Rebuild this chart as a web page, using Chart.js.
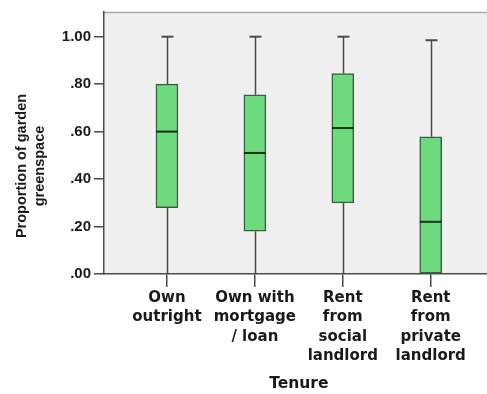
<!DOCTYPE html>
<html>
<head>
<meta charset="utf-8">
<script src="https://cdn.jsdelivr.net/npm/chart.js@4/dist/chart.umd.min.js"></script>
<style>
  html, body { margin: 0; padding: 0; background: #ffffff; }
  #wrap { width: 487px; height: 394px; position: relative; }
</style>
</head>
<body>
<div id="wrap"><canvas id="chart"></canvas></div>
<script>
// Tenure groups and box-plot summaries of garden greenspace proportion
const categories = [
  ["Own", "outright"],
  ["Own with", "mortgage", "/ loan"],
  ["Rent", "from", "social", "landlord"],
  ["Rent", "from", "private", "landlord"]
];
const positions = [1, 2, 3, 4];
const whiskerLow = [0.00, 0.00, 0.00, 0.00];
const quartile1  = [0.28, 0.18, 0.30, 0.00];
const medians    = [0.60, 0.51, 0.615, 0.22];
const quartile3  = [0.80, 0.755, 0.845, 0.578];
const whiskerHigh = [1.00, 1.00, 1.00, 0.985];
const yTicks = [0, 0.2, 0.4, 0.6, 0.8, 1.0];
const yTitleLines = ["Proportion of garden", "greenspace"];
const xTitle = "Tenure";

const boxData = positions.map((x, i) => ({ x: x, y: [quartile1[i], quartile3[i]] }));

const plotBackground = {
  id: 'plotBackground',
  beforeDraw(chart) {
    const { ctx, chartArea: a } = chart;
    ctx.save();
    ctx.fillStyle = '#f0f0f0';
    ctx.fillRect(a.left, a.top, a.right - a.left, a.bottom - a.top);
    ctx.strokeStyle = '#a8a8a8';
    ctx.lineWidth = 1.5;
    ctx.beginPath();
    ctx.moveTo(a.left, a.top + 0.5);
    ctx.lineTo(a.right, a.top + 0.5);
    ctx.stroke();
    ctx.restore();
  }
};

// whiskers behind the boxes, medians on top of them
const boxExtras = {
  id: 'boxExtras',
  beforeDatasetsDraw(chart) {
    const { ctx } = chart;
    const xs = chart.scales.x, ys = chart.scales.y;
    ctx.save();
    ctx.strokeStyle = '#4a4a4a';
    ctx.lineWidth = 1.5;
    positions.forEach((p, i) => {
      const cx = Math.round(xs.getPixelForValue(p)) + 0.5;
      const yHi = ys.getPixelForValue(whiskerHigh[i]);
      const yQ3 = ys.getPixelForValue(quartile3[i]);
      const yQ1 = ys.getPixelForValue(quartile1[i]);
      const yLo = ys.getPixelForValue(whiskerLow[i]);
      ctx.beginPath();
      ctx.moveTo(cx, yHi); ctx.lineTo(cx, yQ3);
      ctx.moveTo(cx, yQ1); ctx.lineTo(cx, yLo);
      ctx.stroke();
      ctx.lineWidth = 2;
      ctx.beginPath();
      ctx.moveTo(cx - 6, yHi); ctx.lineTo(cx + 6, yHi);
      if (whiskerLow[i] > 0) { ctx.moveTo(cx - 6, yLo); ctx.lineTo(cx + 6, yLo); }
      ctx.stroke();
      ctx.lineWidth = 1.5;
    });
    ctx.restore();
  },
  afterDatasetsDraw(chart) {
    const { ctx } = chart;
    const xs = chart.scales.x, ys = chart.scales.y;
    ctx.save();
    ctx.strokeStyle = '#14301a';
    ctx.lineWidth = 2;
    positions.forEach((p, i) => {
      const cx = xs.getPixelForValue(p);
      const ym = ys.getPixelForValue(medians[i]);
      ctx.beginPath();
      ctx.moveTo(cx - 11, ym); ctx.lineTo(cx + 11, ym);
      ctx.stroke();
    });
    ctx.restore();
  },
  afterDraw(chart) {
    const { ctx, chartArea: a } = chart;
    ctx.save();
    ctx.fillStyle = '#1a1a1a';
    ctx.textAlign = 'center';
    ctx.textBaseline = 'middle';
    ctx.font = 'bold 14.5px "Liberation Sans", Arial, sans-serif';
    ctx.translate(31, a.bottom - 108);
    ctx.rotate(-Math.PI / 2);
    ctx.fillText(yTitleLines[0], 0, -9);
    ctx.fillText(yTitleLines[1], 0, 9);
    ctx.restore();
    ctx.save();
    ctx.fillStyle = '#1a1a1a';
    ctx.textAlign = 'center';
    ctx.textBaseline = 'middle';
    ctx.font = 'bold 15.5px "DejaVu Sans", sans-serif';
    const xs = chart.scales.x;
    const mid = (xs.getPixelForValue(positions[0]) + xs.getPixelForValue(positions[positions.length - 1])) / 2;
    ctx.fillText(xTitle, mid, 384);
    ctx.restore();
  }
};

new Chart(document.getElementById('chart'), {
  type: 'bar',
  data: {
    datasets: [{
      data: boxData,
      backgroundColor: '#6ddb7d',
      borderColor: '#3d5e44',
      borderWidth: 1.5,
      borderSkipped: false,
      barThickness: 22
    }]
  },
  options: {
    responsive: true,
    maintainAspectRatio: false,
    animation: false,
    layout: { padding: { top: 9, left: 0, right: 0, bottom: 0 } },
    plugins: { legend: { display: false }, tooltip: { enabled: false } },
    scales: {
      x: {
        type: 'linear',
        offset: false,
        min: 0.284,
        max: 4.64,
        afterBuildTicks(scale) { scale.ticks = positions.map(v => ({ value: v })); },
        afterFit(scale) { scale.height = 120; },
        ticks: {
          autoSkip: false,
          maxRotation: 0,
          padding: 2,
          color: '#1a1a1a',
          font: { family: '"DejaVu Sans", sans-serif', size: 15, weight: 'bold', lineHeight: 1.27 },
          callback(value) { const i = positions.indexOf(value); return i >= 0 ? categories[i] : ''; }
        },
        grid: { offset: false, drawOnChartArea: false, drawTicks: true, tickLength: 13, color: '#4a4a4a', lineWidth: 1.5 },
        border: { display: true, color: '#4a4a4a', width: 1.5 }
      },
      y: {
        min: 0,
        max: 1.104,
        afterBuildTicks(scale) { scale.ticks = yTicks.map(v => ({ value: v })); },
        afterFit(scale) { scale.width = 104; },
        ticks: {
          padding: 3,
          color: '#1a1a1a',
          font: { family: '"Liberation Sans", Arial, sans-serif', size: 15, weight: 'bold' },
          callback(value) {
            const s = value.toFixed(2);
            return s.startsWith('0') ? s.slice(1) : s;
          }
        },
        grid: { drawOnChartArea: false, drawTicks: true, tickLength: 10, color: '#4a4a4a', lineWidth: 1.5 },
        border: { display: true, color: '#4a4a4a', width: 1.5 }
      }
    }
  },
  plugins: [plotBackground, boxExtras]
});
</script>
</body>
</html>
